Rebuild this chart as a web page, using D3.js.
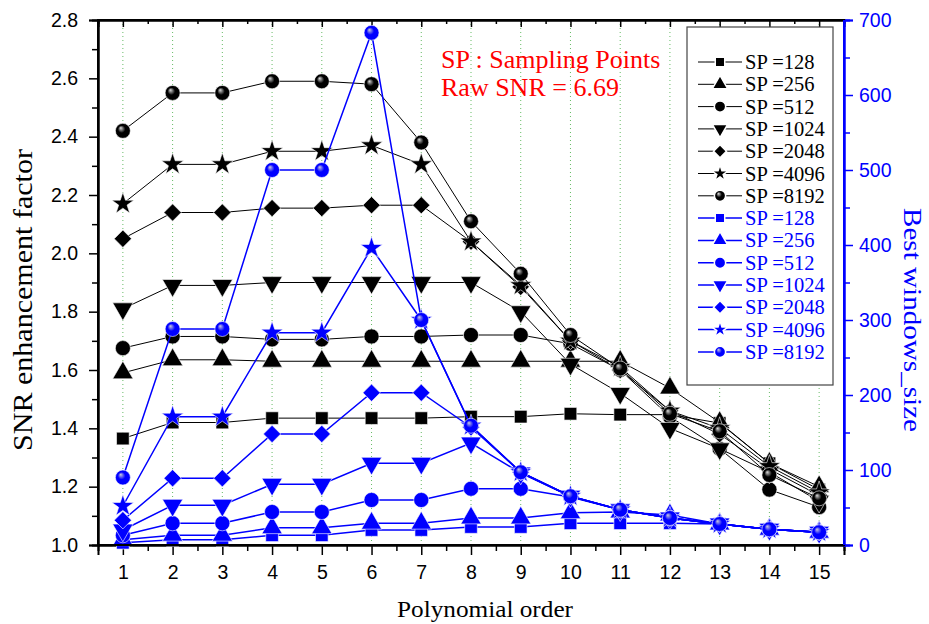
<!DOCTYPE html>
<html>
<head>
<meta charset="utf-8">
<script src="https://cdn.jsdelivr.net/npm/d3@7"></script>
<style>
  body { margin: 0; background: #fff; }
  .tick text { font-family: "Liberation Sans", Arial, sans-serif; font-size: 19.5px; }
</style>
</head>
<body>
<div id="chart"></div>
<script>
const orders = [1, 2, 3, 4, 5, 6, 7, 8, 9, 10, 11, 12, 13, 14, 15];
const spLabels = ['128', '256', '512', '1024', '2048', '4096', '8192'];
const symbolNames = ['square', 'triangle', 'circle', 'triangleDown', 'diamond', 'star', 'sphere'];

// SNR enhancement factor (left axis), one array per SP
const snr128 = [1.365, 1.42, 1.42, 1.435, 1.435, 1.435, 1.435, 1.44, 1.44, 1.45, 1.447, 1.447, 1.418, 1.28, 1.19];
const snr256 = [1.59, 1.635, 1.635, 1.63, 1.63, 1.63, 1.63, 1.63, 1.63, 1.63, 1.63, 1.538, 1.42, 1.28, 1.2];
const snr512 = [1.675, 1.715, 1.715, 1.705, 1.705, 1.715, 1.715, 1.72, 1.72, 1.69, 1.6, 1.44, 1.33, 1.19, 1.13];
const snr1024 = [1.81, 1.89, 1.89, 1.9, 1.9, 1.9, 1.9, 1.9, 1.8, 1.62, 1.52, 1.4, 1.33, 1.25, 1.15];
const snr2048 = [2.05, 2.14, 2.14, 2.155, 2.155, 2.165, 2.165, 2.04, 1.885, 1.7, 1.6, 1.46, 1.38, 1.26, 1.17];
const snr4096 = [2.17, 2.305, 2.305, 2.35, 2.35, 2.37, 2.305, 2.04, 1.89, 1.7, 1.61, 1.46, 1.4, 1.27, 1.18];
const snr8192 = [2.42, 2.55, 2.55, 2.59, 2.59, 2.58, 2.38, 2.11, 1.93, 1.72, 1.605, 1.45, 1.39, 1.24, 1.16];

// Best window size (right axis), one array per SP
const win128 = [3, 7, 7, 13, 13, 20, 20, 24, 24, 29, 29, 29, 28, 21, 17];
const win256 = [7, 13, 13, 23, 23, 29, 29, 36, 36, 43, 44, 40, 28, 21, 17];
const win512 = [13, 29, 29, 44, 44, 60, 60, 75, 75, 64, 47, 36, 28, 21, 17];
const win1024 = [20, 53, 53, 81, 81, 109, 109, 136, 96, 65, 47, 36, 28, 21, 17];
const win2048 = [33, 89, 89, 148, 148, 203, 203, 157, 97, 65, 47, 36, 28, 21, 17];
const win4096 = [52, 171, 171, 283, 283, 396, 300, 159, 97, 65, 47, 36, 28, 21, 17];
const win8192 = [90, 288, 288, 500, 500, 683, 300, 159, 97, 65, 47, 36, 28, 21, 17];

const leftTicks = [1.0, 1.2, 1.4, 1.6, 1.8, 2.0, 2.2, 2.4, 2.6, 2.8];
const rightTicks = [0, 100, 200, 300, 400, 500, 600, 700];

const snrSeries = [snr128, snr256, snr512, snr1024, snr2048, snr4096, snr8192];
const winSeries = [win128, win256, win512, win1024, win2048, win4096, win8192];

const W = 929, H = 624;
const pLeft = 98, pRight = 844, pTop = 20, pBottom = 545;
const serif = '"Liberation Serif", "Times New Roman", serif';
const BLUE = '#0000ff';

const svg = d3.select('#chart').append('svg')
	.attr('width', W)
	.attr('height', H);

const x = d3.scaleLinear().domain([0.5, 15.5]).range([pLeft, pRight]);
const yL = d3.scaleLinear().domain([1.0, 2.8]).range([pBottom, pTop]);
const yR = d3.scaleLinear().domain([0, 700]).range([pBottom, pTop]);

// gradients for the shaded sphere symbol
const defs = svg.append('defs');
[['sphereBlack', '#000', '#ddd'], ['sphereBlue', BLUE, '#ccd']].forEach(([id, base, hi]) => {
	const g = defs.append('radialGradient')
		.attr('id', id)
		.attr('cx', '50%').attr('cy', '50%').attr('r', '55%')
		.attr('fx', '35%').attr('fy', '30%');
	g.append('stop').attr('offset', '0%').attr('stop-color', hi);
	g.append('stop').attr('offset', '45%').attr('stop-color', base);
	g.append('stop').attr('offset', '100%').attr('stop-color', base);
});

// vertical green dotted grid
svg.append('g').selectAll('line')
	.data(orders)
	.enter().append('line')
		.attr('x1', d => x(d)).attr('x2', d => x(d))
		.attr('y1', pTop).attr('y2', pBottom)
		.attr('stroke', '#66bb66')
		.attr('stroke-width', 1)
		.attr('stroke-dasharray', '1,3');

// axes
const xAxis = d3.axisBottom(x).tickValues(orders).tickSize(10).tickPadding(10).tickFormat(d3.format('d'));
const xMinor = d3.axisBottom(x).tickValues(d3.range(1.5, 15, 1)).tickSize(6).tickFormat('');
svg.append('g').attr('transform', `translate(0,${pBottom})`).call(xAxis);
svg.append('g').attr('transform', `translate(0,${pBottom})`).call(xMinor);
const topAxis = d3.axisBottom(x).tickValues(orders).tickSize(7).tickFormat('');
const topMinor = d3.axisBottom(x).tickValues(d3.range(1.5, 15, 1)).tickSize(4).tickFormat('');
svg.append('g').attr('transform', `translate(0,${pTop})`).call(topAxis);
svg.append('g').attr('transform', `translate(0,${pTop})`).call(topMinor);

const yAxisL = d3.axisLeft(yL).tickValues(leftTicks).tickSize(9).tickPadding(11).tickFormat(d3.format('.1f'));
const yMinorL = d3.axisLeft(yL).tickValues(d3.range(1.1, 2.8, 0.2)).tickSize(6).tickFormat('');
svg.append('g').attr('transform', `translate(${pLeft},0)`).call(yAxisL);
svg.append('g').attr('transform', `translate(${pLeft},0)`).call(yMinorL);

const yAxisR = d3.axisRight(yR).tickValues(rightTicks).tickSize(9).tickPadding(6);
const yMinorR = d3.axisRight(yR).tickValues(d3.range(50, 700, 100)).tickSize(6).tickFormat('');
const gR = svg.append('g').attr('transform', `translate(${pRight},0)`).call(yAxisR);
const gRm = svg.append('g').attr('transform', `translate(${pRight},0)`).call(yMinorR);

svg.selectAll('.domain').attr('stroke-width', 2);
svg.selectAll('.tick line').attr('stroke-width', 1.5);
[gR, gRm].forEach(g => {
	g.selectAll('.domain, .tick line').attr('stroke', BLUE);
	g.selectAll('text').attr('fill', BLUE);
});

// shape builder
function drawSymbol(g, name, cx, cy, color, scale = 1) {
	const size = { square: 160, triangle: 180, circle: 180, triangleDown: 180, diamond: 150, star: 150 }[name];
	if (name === 'sphere') {
		return g.append('circle')
			.attr('cx', cx).attr('cy', cy).attr('r', 7.5 * scale)
			.attr('fill', color === BLUE ? 'url(#sphereBlue)' : 'url(#sphereBlack)');
	}
	let type = d3.symbolSquare;
	let rot = 0;
	if (name === 'triangle') type = d3.symbolTriangle;
	if (name === 'triangleDown') { type = d3.symbolTriangle; rot = 180; }
	if (name === 'circle') type = d3.symbolCircle;
	if (name === 'diamond') { type = d3.symbolSquare; rot = 45; }
	if (name === 'star') type = d3.symbolStar;
	return g.append('path')
		.attr('d', d3.symbol().type(type).size(size * scale * scale)())
		.attr('transform', `translate(${cx},${cy}) rotate(${rot})`)
		.attr('fill', color);
}

const plot = svg.append('g');

function drawSeries(values, yScale, color, width, symbol) {
	const line = d3.line().x((d, i) => x(orders[i])).y(d => yScale(d));
	plot.append('path')
		.datum(values)
		.attr('d', line)
		.attr('fill', 'none')
		.attr('stroke', color)
		.attr('stroke-width', width);
	values.forEach((v, i) => {
		drawSymbol(plot, symbol, x(orders[i]), yScale(v), color)
			.attr('stroke', '#fff').attr('stroke-width', 0.6);
	});
}

snrSeries.forEach((s, i) => drawSeries(s, yL, '#000', 1, symbolNames[i]));
winSeries.forEach((s, i) => drawSeries(s, yR, BLUE, 1.5, symbolNames[i]));

// frame box
svg.append('rect')
	.attr('x', pLeft).attr('y', pTop)
	.attr('width', pRight - pLeft).attr('height', pBottom - pTop)
	.attr('fill', 'none').attr('stroke', '#000').attr('stroke-width', 2);
svg.append('line')
	.attr('x1', pRight).attr('x2', pRight).attr('y1', pTop).attr('y2', pBottom)
	.attr('stroke', BLUE).attr('stroke-width', 2);

// legend
const legend = svg.append('g');
legend.append('rect')
	.attr('x', 687).attr('y', 27).attr('width', 146).attr('height', 358)
	.attr('fill', '#fff').attr('stroke', '#444').attr('stroke-width', 1.2);
const legendItems = [];
spLabels.forEach((l, i) => legendItems.push({ label: l, symbol: symbolNames[i], color: '#000' }));
spLabels.forEach((l, i) => legendItems.push({ label: l, symbol: symbolNames[i], color: BLUE }));
legendItems.forEach((d, i) => {
	const cy = 62 + i * 22.3;
	legend.append('line')
		.attr('x1', 698).attr('x2', 742).attr('y1', cy).attr('y2', cy)
		.attr('stroke', d.color).attr('stroke-width', d.color === BLUE ? 1.5 : 1);
	drawSymbol(legend, d.symbol, 720, cy, d.color, 0.75)
		.attr('stroke', '#fff').attr('stroke-width', 1.5);
	legend.append('text')
		.attr('x', 745).attr('y', cy + 7)
		.attr('font-family', serif).attr('font-size', 20.5)
		.attr('fill', d.color)
		.text(`SP =${d.label}`);
});

// annotation
const note = svg.append('g')
	.attr('font-family', serif).attr('font-size', 26).attr('fill', '#ff0000');
note.append('text').attr('x', 441).attr('y', 68).text('SP : Sampling Points');
note.append('text').attr('x', 441).attr('y', 96).text('Raw SNR = 6.69');

// axis titles (stretched a little along their length, as in the original)
svg.append('text')
	.attr('x', 485).attr('y', 617)
	.attr('text-anchor', 'middle')
	.attr('font-family', serif).attr('font-size', 23)
	.attr('textLength', 176).attr('lengthAdjust', 'spacingAndGlyphs')
	.text('Polynomial order');
svg.append('text')
	.attr('transform', 'translate(32,300) rotate(-90)')
	.attr('text-anchor', 'middle')
	.attr('font-family', serif).attr('font-size', 27)
	.attr('textLength', 302).attr('lengthAdjust', 'spacingAndGlyphs')
	.text('SNR enhancement factor');
svg.append('text')
	.attr('transform', 'translate(904,320) rotate(90)')
	.attr('text-anchor', 'middle')
	.attr('font-family', serif).attr('font-size', 25)
	.attr('textLength', 224).attr('lengthAdjust', 'spacingAndGlyphs')
	.attr('fill', BLUE)
	.text('Best windows_size');
</script>
</body>
</html>
